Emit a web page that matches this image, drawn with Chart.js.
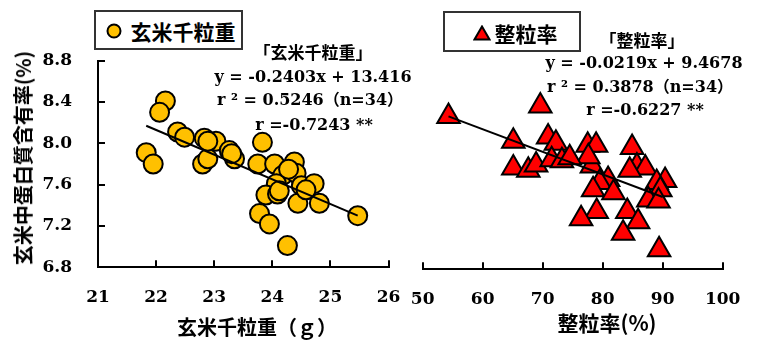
<!DOCTYPE html>
<html>
<head>
<meta charset="utf-8">
<script src="https://cdn.jsdelivr.net/npm/chart.js@4.4.0/dist/chart.umd.min.js"></script>
<style>
  html, body { margin: 0; padding: 0; background: #fff; }
  #page { position: relative; width: 759px; height: 340px; overflow: hidden; }
  .box { position: absolute; }
  .txt { position: absolute; transform: translate(-50%, -50%); white-space: pre; line-height: 1; color: #000; font-weight: bold; }
  .cjk { font-family: "Noto Sans CJK JP", sans-serif; }
  .num { font-family: "DejaVu Serif", "Noto Sans CJK JP", serif; font-size: 16px; }
  .legend { position: absolute; border: 2px solid #333; background: #fff; box-sizing: border-box; }
</style>
</head>
<body>
<div id="page">
  <div class="box" style="left:0;top:0;width:400px;height:340px"><canvas id="left" width="400" height="340"></canvas></div>
  <div class="box" style="left:400px;top:0;width:359px;height:340px"><canvas id="right" width="359" height="340"></canvas></div>

  <div class="txt cjk" style="left:23px;top:158px;font-size:20px;transform:translate(-50%,-50%) rotate(-90deg)">玄米中蛋白質含有率(%)</div>
  <div class="txt cjk" style="left:257px;top:327px;font-size:20px">玄米千粒重（ｇ）</div>
  <div class="txt cjk" style="left:607px;top:322px;font-size:21px">整粒率(%)</div>

  <div class="legend" style="left:94px;top:10px;width:149px;height:40px">
    <svg style="position:absolute;left:10px;top:11px" width="16" height="16"><circle cx="8" cy="8" r="6.5" fill="#FFC000" stroke="#000" stroke-width="2"/></svg>
    <div class="txt cjk" style="left:87px;top:19px;font-size:21px">玄米千粒重</div>
  </div>
  <div class="legend" style="left:443px;top:11px;width:138px;height:41px">
    <svg style="position:absolute;left:28px;top:12px" width="18" height="16"><polygon points="9,1.5 16.5,14.5 1.5,14.5" fill="#FF0000" stroke="#000" stroke-width="2"/></svg>
    <div class="txt cjk" style="left:81px;top:20px;font-size:21px">整粒率</div>
  </div>

  <div class="txt cjk" style="left:313px;top:51px;font-size:17px">「玄米千粒重」</div>
  <div class="txt num" style="left:313px;top:77px">y = -0.2403x + 13.416</div>
  <div class="txt num" style="left:310px;top:100px">r ² = 0.5246（n=34）</div>
  <div class="txt num" style="left:314px;top:125px">r =-0.7243 **</div>

  <div class="txt cjk" style="left:642px;top:39px;font-size:17px">「整粒率」</div>
  <div class="txt num" style="left:644px;top:63px">y = -0.0219x + 9.4678</div>
  <div class="txt num" style="left:640px;top:87px">r ² = 0.3878（n=34）</div>
  <div class="txt num" style="left:645px;top:110px">r =-0.6227 **</div>
</div>
<script>
// 玄米千粒重 (g) vs protein (%)
const weightX = [22.16, 22.06, 21.83, 21.95, 22.37, 22.49, 22.83, 23.03, 22.80, 22.89,
                 23.26, 23.35, 23.83, 23.75, 24.04, 24.38, 24.18, 24.41, 24.07, 24.50,
                 24.72, 23.89, 24.09, 24.44, 24.81, 23.78, 23.95, 24.26, 25.47, 23.30,
                 24.28, 24.12, 24.58, 22.89]
const weightY = [8.41, 8.30, 7.91, 7.80, 8.11, 8.06, 8.05, 8.02, 7.80, 7.85,
                 7.93, 7.85, 8.01, 7.80, 7.80, 7.82, 7.69, 7.71, 7.61, 7.59,
                 7.61, 7.50, 7.51, 7.42, 7.42, 7.32, 7.22, 7.01, 7.30, 7.90,
                 7.75, 7.54, 7.55, 8.02]
const weightTrendX = [21.83, 25.47]
const weightTrendY = [8.17, 7.30]

// 整粒率 (%) vs protein (%)
const ratioX = [54.3, 69.6, 65.1, 65.1, 67.6, 68.9, 70.9, 72.2, 71.5, 73.2,
                77.5, 78.9, 78.2, 77.6, 80.9, 79.5, 78.4, 81.8, 79.0, 76.4,
                84.1, 85.9, 83.4, 89.4, 84.9, 85.7, 87.1, 84.5, 90.4, 89.0,
                89.6, 87.6, 89.3, 74.5]
const ratioY = [8.28, 8.38, 8.04, 7.78, 7.76, 7.81, 8.08, 8.02, 7.86, 7.85,
                8.00, 8.00, 7.80, 7.89, 7.67, 7.64, 7.57, 7.54, 7.36, 7.29,
                7.36, 7.26, 7.15, 6.99, 7.98, 7.80, 7.78, 7.76, 7.66, 7.64,
                7.57, 7.47, 7.46, 7.88]
const ratioTrendX = [54.3, 90.0]
const ratioTrendY = [8.28, 7.50]

const yMin = 6.8, yMax = 8.8, yStep = 0.4
const weightMin = 21, weightMax = 26, weightStep = 1
const ratioMin = 50, ratioMax = 100, ratioStep = 10

const tickFont = { family: "DejaVu Serif", weight: "bold", size: 17 }

function pts(xs, ys) {
    return xs.map((x, i) => ({ x: x, y: ys[i] }))
}

function axisGrid() {
    return {
        drawOnChartArea: false,
        drawTicks: true,
        tickLength: -7,
        color: "#000",
        lineWidth: 2,
    }
}

// no automatic label padding, the chart areas are fixed by layout.padding
function fixSize(w, h) {
    return (s) => {
        if (w !== null) s.width = w
        if (h !== null) s.height = h
        s.paddingLeft = 0
        s.paddingRight = 0
        s.paddingTop = 0
        s.paddingBottom = 0
    }
}

// left chart: area 98..389 x 60.7..267.3
new Chart(document.getElementById("left"), {
    type: "scatter",
    data: {
        datasets: [
            {
                type: "line",
                data: pts(weightTrendX, weightTrendY),
                borderColor: "#000",
                borderWidth: 2,
                pointRadius: 0,
                fill: false,
                order: 0,
            },
            {
                data: pts(weightX, weightY),
                backgroundColor: "#FFC000",
                borderColor: "#000",
                borderWidth: 2,
                pointRadius: 9.5,
                order: 1,
                clip: false,
            },
        ],
    },
    options: {
        responsive: false,
        animation: false,
        events: [],
        layout: { padding: { top: 60.7, right: 11, left: 0, bottom: 0 } },
        plugins: { legend: { display: false }, tooltip: { enabled: false } },
        scales: {
            x: {
                type: "linear",
                min: weightMin, max: weightMax,
                ticks: { stepSize: weightStep, font: tickFont, color: "#000", padding: 27.5 },
                grid: axisGrid(),
                border: { display: true, color: "#000", width: 2 },
                afterFit: fixSize(null, 72.7),
            },
            y: {
                min: yMin, max: yMax,
                ticks: { stepSize: yStep, font: tickFont, color: "#000", padding: 33,
                         callback: (v) => v.toFixed(1) },
                grid: axisGrid(),
                border: { display: true, color: "#000", width: 2 },
                afterFit: fixSize(98, null),
            },
        },
    },
})

// right chart: area 422.7..722.7 x 62.7..269.3 (no y axis drawn)
new Chart(document.getElementById("right"), {
    type: "scatter",
    data: {
        datasets: [
            {
                type: "line",
                data: pts(ratioTrendX, ratioTrendY),
                borderColor: "#000",
                borderWidth: 2,
                pointRadius: 0,
                fill: false,
                order: 0,
            },
            {
                data: pts(ratioX, ratioY),
                pointStyle: "triangle",
                backgroundColor: "#FF0000",
                borderColor: "#000",
                borderWidth: 2,
                pointRadius: 13,
                order: 1,
                clip: false,
            },
        ],
    },
    options: {
        responsive: false,
        animation: false,
        events: [],
        layout: { padding: { top: 62.7, right: 36.3, left: 22.7, bottom: 0 } },
        plugins: { legend: { display: false }, tooltip: { enabled: false } },
        scales: {
            x: {
                type: "linear",
                min: ratioMin, max: ratioMax,
                ticks: { stepSize: ratioStep, font: tickFont, color: "#000", padding: 27.5 },
                grid: axisGrid(),
                border: { display: true, color: "#000", width: 2 },
                afterFit: fixSize(null, 70.7),
            },
            y: {
                display: false,
                min: yMin, max: yMax,
            },
        },
    },
})
</script>
</body>
</html>
